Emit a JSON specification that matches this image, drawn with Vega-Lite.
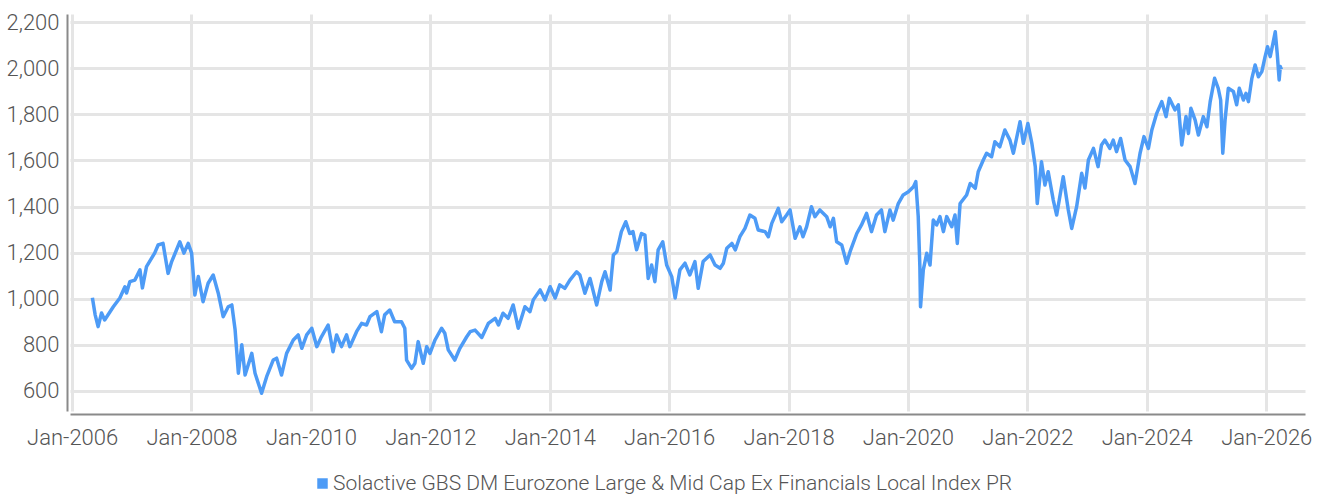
{
  "$schema": "https://vega.github.io/schema/vega-lite/v6.json",
  "autosize": "none",
  "width": 1235,
  "height": 397,
  "padding": {"left": 70, "top": 14, "right": 17, "bottom": 87},
  "background": "white",
  "config": {
    "view": {"stroke": null},
    "font": "Roboto",
    "axis": {
      "labelFont": "Roboto",
      "labelFontSize": 22,
      "labelFontWeight": 300,
      "labelColor": "#555555",
      "gridColor": "#e5e5e5",
      "gridWidth": 3,
      "domainColor": "#8a8a8a",
      "domainWidth": 2,
      "ticks": false,
      "title": null
    },
    "legend": {
      "labelFont": "Roboto",
      "labelFontSize": 21,
      "labelFontWeight": 300,
      "labelColor": "#555555",
      "labelLimit": 1000
    }
  },
  "data": {"values": [
    {"d":"2006-05-05","v":1004},{"d":"2006-05-22","v":930},{"d":"2006-06-09","v":879},{"d":"2006-06-30","v":938},{"d":"2006-07-19","v":908},
    {"d":"2006-09-10","v":965},{"d":"2006-10-20","v":1003},{"d":"2006-11-20","v":1052},{"d":"2006-11-30","v":1025},{"d":"2006-12-20","v":1074},
    {"d":"2007-01-20","v":1081},{"d":"2007-02-20","v":1125},{"d":"2007-03-07","v":1047},{"d":"2007-04-01","v":1139},{"d":"2007-05-21","v":1198},
    {"d":"2007-06-11","v":1233},{"d":"2007-07-11","v":1240},{"d":"2007-08-11","v":1110},{"d":"2007-09-02","v":1161},{"d":"2007-10-22","v":1247},
    {"d":"2007-11-16","v":1198},{"d":"2007-12-12","v":1240},{"d":"2008-01-02","v":1198},{"d":"2008-01-22","v":1016},{"d":"2008-02-12","v":1096},
    {"d":"2008-03-12","v":987},{"d":"2008-04-12","v":1067},{"d":"2008-05-13","v":1103},{"d":"2008-06-13","v":1024},{"d":"2008-07-13","v":922},
    {"d":"2008-08-13","v":965},{"d":"2008-09-04","v":973},{"d":"2008-09-24","v":865},{"d":"2008-10-14","v":677},{"d":"2008-11-04","v":800},
    {"d":"2008-11-24","v":669},{"d":"2009-01-04","v":763},{"d":"2009-01-24","v":677},{"d":"2009-03-05","v":590},{"d":"2009-04-05","v":662},
    {"d":"2009-05-15","v":734},{"d":"2009-06-05","v":742},{"d":"2009-07-05","v":669},{"d":"2009-08-05","v":763},{"d":"2009-09-15","v":821},
    {"d":"2009-10-15","v":843},{"d":"2009-11-06","v":785},{"d":"2009-12-06","v":843},{"d":"2010-01-06","v":872},{"d":"2010-02-06","v":792},
    {"d":"2010-03-06","v":835},{"d":"2010-04-16","v":886},{"d":"2010-05-16","v":770},{"d":"2010-06-07","v":843},{"d":"2010-07-07","v":792},
    {"d":"2010-08-07","v":843},{"d":"2010-08-27","v":792},{"d":"2010-10-07","v":857},{"d":"2010-11-07","v":893},{"d":"2010-12-07","v":886},
    {"d":"2010-12-28","v":922},{"d":"2011-02-08","v":944},{"d":"2011-03-08","v":857},{"d":"2011-03-28","v":930},{"d":"2011-04-28","v":951},
    {"d":"2011-05-28","v":900},{"d":"2011-07-09","v":900},{"d":"2011-07-29","v":872},{"d":"2011-08-09","v":734},{"d":"2011-09-09","v":698},
    {"d":"2011-09-29","v":720},{"d":"2011-10-19","v":814},{"d":"2011-11-19","v":720},{"d":"2011-12-10","v":792},{"d":"2011-12-30","v":763},
    {"d":"2012-01-30","v":821},{"d":"2012-03-10","v":872},{"d":"2012-03-30","v":850},{"d":"2012-04-20","v":778},{"d":"2012-05-30","v":734},
    {"d":"2012-06-30","v":785},{"d":"2012-08-11","v":835},{"d":"2012-09-01","v":857},{"d":"2012-10-01","v":864},{"d":"2012-11-11","v":832},
    {"d":"2012-12-21","v":893},{"d":"2013-02-01","v":915},{"d":"2013-02-21","v":886},{"d":"2013-03-21","v":937},{"d":"2013-04-21","v":915},
    {"d":"2013-05-22","v":973},{"d":"2013-06-22","v":872},{"d":"2013-08-02","v":965},{"d":"2013-09-02","v":944},{"d":"2013-09-22","v":995},
    {"d":"2013-11-03","v":1038},{"d":"2013-12-03","v":995},{"d":"2014-01-03","v":1052},{"d":"2014-02-03","v":1003},{"d":"2014-03-03","v":1060},
    {"d":"2014-04-03","v":1045},{"d":"2014-05-04","v":1081},{"d":"2014-06-14","v":1117},{"d":"2014-07-04","v":1103},{"d":"2014-08-04","v":1024},
    {"d":"2014-09-04","v":1088},{"d":"2014-10-15","v":973},{"d":"2014-11-15","v":1074},{"d":"2014-12-05","v":1117},{"d":"2015-01-05","v":1038},
    {"d":"2015-01-25","v":1190},{"d":"2015-02-15","v":1204},{"d":"2015-03-15","v":1291},{"d":"2015-04-11","v":1334},{"d":"2015-05-05","v":1283},
    {"d":"2015-05-25","v":1291},{"d":"2015-06-16","v":1212},{"d":"2015-07-16","v":1283},{"d":"2015-08-06","v":1276},{"d":"2015-08-26","v":1088},
    {"d":"2015-09-16","v":1146},{"d":"2015-10-06","v":1074},{"d":"2015-10-26","v":1212},{"d":"2015-11-23","v":1247},{"d":"2015-12-17","v":1146},
    {"d":"2016-01-17","v":1096},{"d":"2016-02-07","v":1003},{"d":"2016-03-07","v":1125},{"d":"2016-04-07","v":1154},{"d":"2016-05-07","v":1103},
    {"d":"2016-06-07","v":1161},{"d":"2016-06-27","v":1045},{"d":"2016-07-27","v":1161},{"d":"2016-09-08","v":1190},{"d":"2016-10-08","v":1146},
    {"d":"2016-11-08","v":1132},{"d":"2016-11-28","v":1154},{"d":"2016-12-19","v":1219},{"d":"2017-01-19","v":1240},{"d":"2017-02-09","v":1212},
    {"d":"2017-03-09","v":1269},{"d":"2017-04-09","v":1305},{"d":"2017-05-09","v":1363},{"d":"2017-06-09","v":1349},{"d":"2017-06-29","v":1298},
    {"d":"2017-08-10","v":1291},{"d":"2017-08-30","v":1269},{"d":"2017-09-20","v":1327},{"d":"2017-10-30","v":1392},{"d":"2017-11-20","v":1334},
    {"d":"2017-12-20","v":1363},{"d":"2018-01-10","v":1385},{"d":"2018-02-10","v":1262},{"d":"2018-03-11","v":1312},{"d":"2018-03-30","v":1269},
    {"d":"2018-04-21","v":1312},{"d":"2018-05-21","v":1399},{"d":"2018-06-11","v":1356},{"d":"2018-07-11","v":1385},{"d":"2018-08-22","v":1356},
    {"d":"2018-09-12","v":1312},{"d":"2018-10-02","v":1349},{"d":"2018-10-22","v":1247},{"d":"2018-11-22","v":1233},{"d":"2018-12-22","v":1154},
    {"d":"2019-01-12","v":1204},{"d":"2019-02-22","v":1283},{"d":"2019-03-23","v":1320},{"d":"2019-04-23","v":1370},{"d":"2019-05-23","v":1291},
    {"d":"2019-06-23","v":1363},{"d":"2019-07-23","v":1385},{"d":"2019-08-13","v":1291},{"d":"2019-09-13","v":1385},{"d":"2019-10-03","v":1341},
    {"d":"2019-11-03","v":1413},{"d":"2019-12-03","v":1450},{"d":"2020-01-04","v":1464},{"d":"2020-02-04","v":1486},{"d":"2020-02-18","v":1508},
    {"d":"2020-03-04","v":1356},{"d":"2020-03-14","v":1139},{"d":"2020-03-18","v":965},{"d":"2020-04-04","v":1125},{"d":"2020-04-25","v":1197},
    {"d":"2020-05-15","v":1146},{"d":"2020-06-04","v":1341},{"d":"2020-06-25","v":1320},{"d":"2020-07-15","v":1356},{"d":"2020-08-05","v":1291},
    {"d":"2020-08-25","v":1356},{"d":"2020-09-25","v":1312},{"d":"2020-10-15","v":1363},{"d":"2020-10-29","v":1240},{"d":"2020-11-15","v":1413},
    {"d":"2020-12-25","v":1450},{"d":"2021-01-16","v":1500},{"d":"2021-02-16","v":1479},{"d":"2021-03-06","v":1551},{"d":"2021-04-06","v":1602},
    {"d":"2021-04-26","v":1631},{"d":"2021-05-27","v":1616},{"d":"2021-06-16","v":1681},{"d":"2021-07-16","v":1659},{"d":"2021-08-16","v":1732},
    {"d":"2021-09-16","v":1688},{"d":"2021-10-07","v":1631},{"d":"2021-11-17","v":1768},{"d":"2021-12-07","v":1674},{"d":"2022-01-04","v":1760},
    {"d":"2022-01-28","v":1674},{"d":"2022-02-18","v":1573},{"d":"2022-03-02","v":1413},{"d":"2022-03-28","v":1594},{"d":"2022-04-18","v":1493},
    {"d":"2022-05-08","v":1551},{"d":"2022-06-08","v":1428},{"d":"2022-06-29","v":1363},{"d":"2022-08-08","v":1529},{"d":"2022-09-08","v":1385},
    {"d":"2022-09-29","v":1305},{"d":"2022-10-29","v":1399},{"d":"2022-11-29","v":1544},{"d":"2022-12-19","v":1480},{"d":"2023-01-09","v":1602},
    {"d":"2023-02-09","v":1652},{"d":"2023-03-09","v":1573},{"d":"2023-03-30","v":1667},{"d":"2023-04-20","v":1688},{"d":"2023-05-20","v":1652},
    {"d":"2023-06-10","v":1688},{"d":"2023-06-30","v":1638},{"d":"2023-07-25","v":1695},{"d":"2023-08-21","v":1602},{"d":"2023-09-21","v":1573},
    {"d":"2023-10-21","v":1500},{"d":"2023-11-21","v":1631},{"d":"2023-12-15","v":1703},{"d":"2024-01-11","v":1652},{"d":"2024-02-01","v":1732},
    {"d":"2024-03-02","v":1804},{"d":"2024-04-02","v":1855},{"d":"2024-04-28","v":1790},{"d":"2024-05-18","v":1869},{"d":"2024-06-22","v":1819},
    {"d":"2024-07-12","v":1841},{"d":"2024-08-02","v":1667},{"d":"2024-08-28","v":1790},{"d":"2024-09-12","v":1717},{"d":"2024-09-27","v":1826},
    {"d":"2024-10-23","v":1775},{"d":"2024-11-12","v":1710},{"d":"2024-12-12","v":1790},{"d":"2025-01-03","v":1746},{"d":"2025-01-23","v":1855},
    {"d":"2025-02-19","v":1956},{"d":"2025-03-13","v":1913},{"d":"2025-03-28","v":1862},{"d":"2025-04-10","v":1631},{"d":"2025-04-24","v":1775},
    {"d":"2025-05-14","v":1913},{"d":"2025-06-14","v":1899},{"d":"2025-07-04","v":1841},{"d":"2025-07-20","v":1913},{"d":"2025-08-14","v":1862},
    {"d":"2025-08-30","v":1891},{"d":"2025-09-14","v":1855},{"d":"2025-10-05","v":1956},{"d":"2025-10-25","v":2014},{"d":"2025-11-14","v":1963},
    {"d":"2025-12-05","v":1985},{"d":"2025-12-25","v":2050},{"d":"2026-01-09","v":2093},{"d":"2026-01-25","v":2050},{"d":"2026-02-11","v":2108},
    {"d":"2026-02-25","v":2158},{"d":"2026-03-09","v":2064},{"d":"2026-03-21","v":1949},{"d":"2026-03-28","v":2007},{"d":"2026-04-04","v":1995}
  ]},
  "mark": {"type": "line", "strokeWidth": 3.5, "strokeJoin": "round", "clip": true},
  "encoding": {
    "x": {
      "field": "d", "type": "temporal",
      "scale": {"type": "utc", "domain": [{"year": 2005, "month": 12, "date": 19, "utc": true}, {"year": 2026, "month": 8, "date": 26, "utc": true}]},
      "axis": {
        "format": "%b-%Y",
        "values": [
          {"year": 2006, "month": 1, "date": 1, "utc": true},
          {"year": 2008, "month": 1, "date": 1, "utc": true},
          {"year": 2010, "month": 1, "date": 1, "utc": true},
          {"year": 2012, "month": 1, "date": 1, "utc": true},
          {"year": 2014, "month": 1, "date": 1, "utc": true},
          {"year": 2016, "month": 1, "date": 1, "utc": true},
          {"year": 2018, "month": 1, "date": 1, "utc": true},
          {"year": 2020, "month": 1, "date": 1, "utc": true},
          {"year": 2022, "month": 1, "date": 1, "utc": true},
          {"year": 2024, "month": 1, "date": 1, "utc": true},
          {"year": 2026, "month": 1, "date": 1, "utc": true}
        ],
        "grid": true,
        "offset": 3,
        "labelPadding": 13,
        "labelFlush": false,
        "labelOverlap": false
      }
    },
    "y": {
      "field": "v", "type": "quantitative",
      "scale": {"domain": [513, 2235], "nice": false, "zero": false},
      "axis": {
        "values": [600, 800, 1000, 1200, 1400, 1600, 1800, 2000, 2200],
        "format": ",d",
        "grid": true,
        "offset": 3,
        "labelPadding": 8
      }
    },
    "color": {
      "datum": "Solactive GBS DM Eurozone Large & Mid Cap Ex Financials Local Index PR",
      "type": "nominal",
      "scale": {"range": ["#4d9bf6"]},
      "legend": {
        "title": null,
        "orient": "none",
        "legendX": 242,
        "legendY": 459,
        "direction": "horizontal",
        "symbolType": "square",
        "symbolSize": 110,
        "symbolFillColor": "#4d9bf6",
        "symbolStrokeColor": "#4d9bf6",
        "symbolStrokeWidth": 0,
        "labelOffset": 0
      }
    }
  }
}
